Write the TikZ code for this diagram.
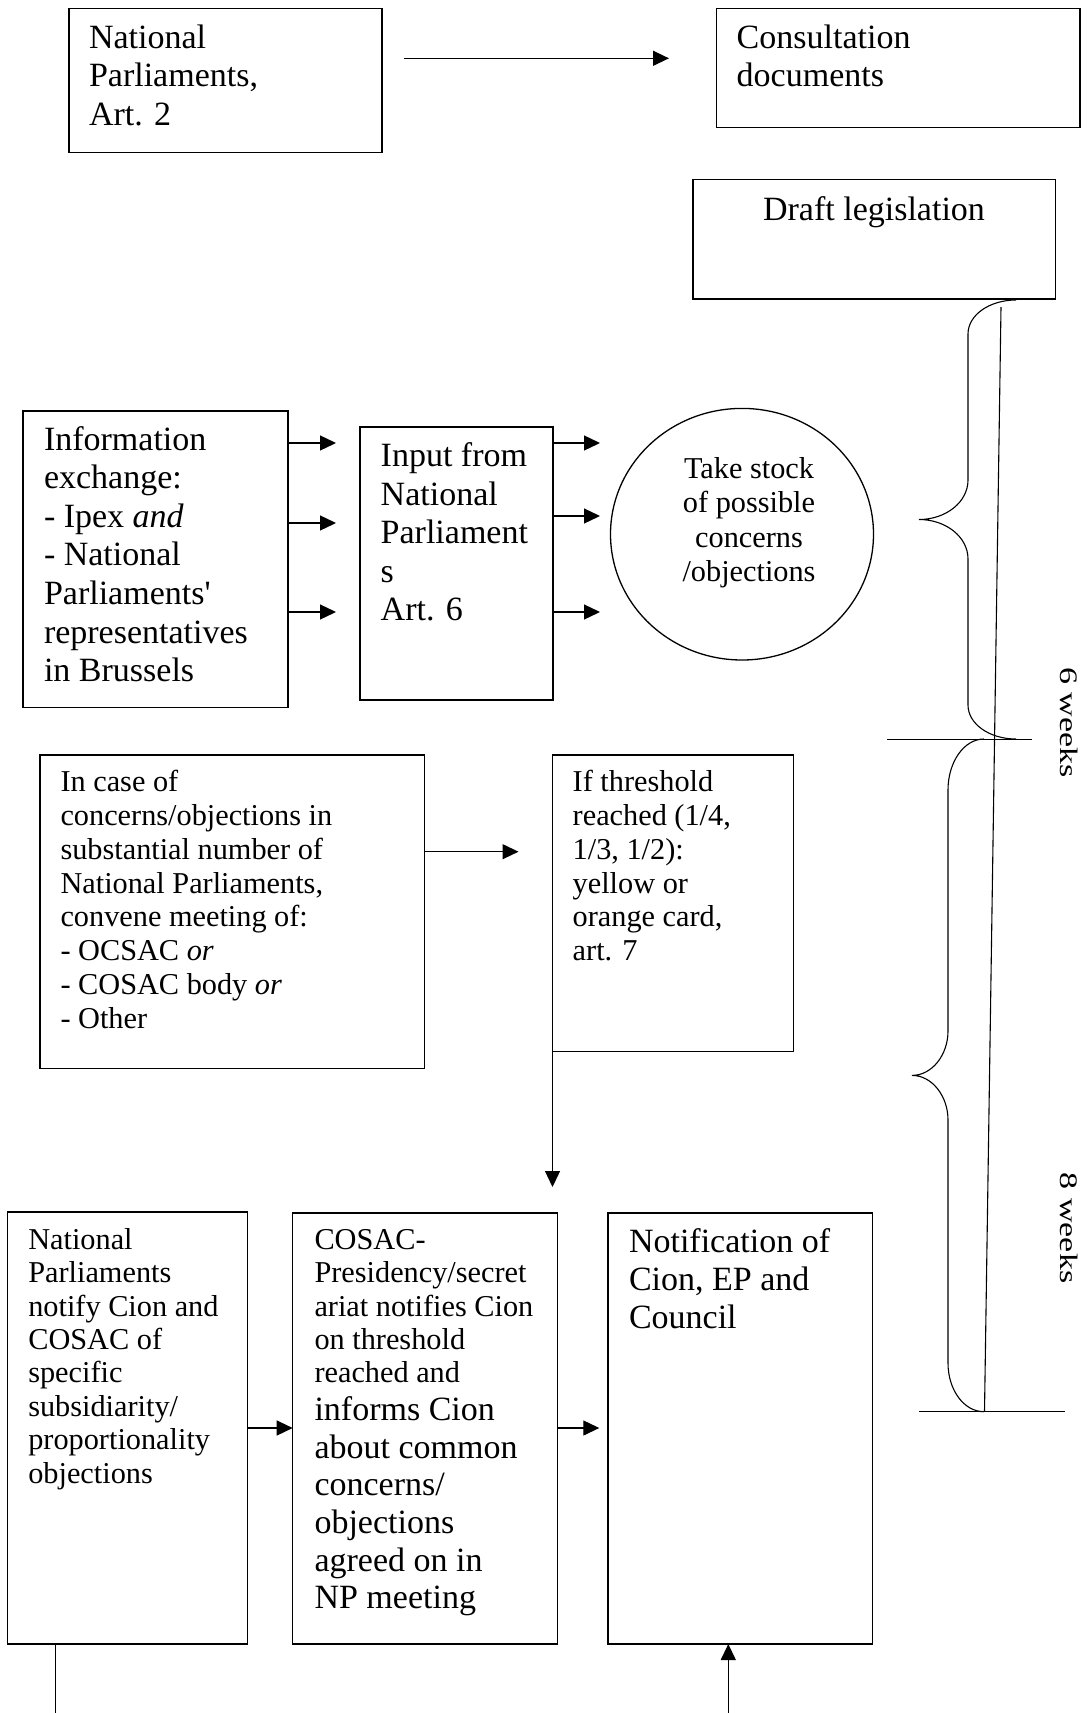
\documentclass[tikz,border=0pt]{standalone}
\usepackage{graphicx}
\usepackage{fontspec}
\setmainfont{Liberation Serif}[Ligatures=TeXOff]
\usetikzlibrary{arrows.meta,shapes.geometric}
\newcommand{\fbig}{\fontsize{34}{38.6}\selectfont}
\newcommand{\fsml}{\fontsize{30.3}{33.6}\selectfont}
\tikzset{
  box/.style={draw, line width=1.3pt, rectangle, inner sep=0pt, outer sep=0pt, anchor=north west},
  txt/.style={anchor=base west, inner sep=0pt, outer sep=0pt},
  ctxt/.style={anchor=base, inner sep=0pt, outer sep=0pt},
  arr/.style={line width=1.3pt, -{Triangle[length=16pt,width=15pt]}},
  plain/.style={line width=1.3pt},
  thinline/.style={line width=1.1pt},
}
\begin{document}
\begin{tikzpicture}[x=1pt,y=-1pt]
\useasboundingbox (0,0) rectangle (1089,1713);

% top row
\node[box, minimum width=313, minimum height=144.4] (np) at (69,8.3) {};
\node[txt] (npt) at (89,48.3) {\parbox[t]{285pt}{\fbig\raggedright National\\Parliaments,\\Art. 2}};
\node[box, minimum width=363.3, minimum height=119.4] (cons) at (716.7,8.3) {};
\node[txt] (const) at (736.7,48.3) {\parbox[t]{330pt}{\fbig\raggedright Consultation\\documents}};
\node[box, minimum width=362.7, minimum height=119.7] (draft) at (693,179.3) {};
\node[ctxt] (draftt) at (874,220.7) {\fbig Draft legislation};

% second row
\node[box, minimum width=265, minimum height=296.3] (info) at (23,411) {};
\node[txt] (infot) at (44,450) {\parbox[t]{238pt}{\fbig\raggedright Information\\exchange:\\- Ipex \textit{and}\\- National\\Parliaments'\\representatives\\in Brussels}};
\node[box, minimum width=193, minimum height=273] (input) at (360,427) {};
\node[txt] (inputt) at (380.7,466.7) {\parbox[t]{165pt}{\fontsize{34}{38.5}\selectfont\raggedright Input from\\National\\Parliament\\s\\Art. 6}};
\node[draw, line width=1.3pt, ellipse, minimum width=263, minimum height=251.6, inner sep=0pt, outer sep=0pt] (stock) at (742,534.2) {};
\node[ctxt] (stockt) at (749,478) {\parbox[t]{200pt}{\centering\fontsize{30.3}{34.5}\selectfont Take stock\\of possible\\concerns\\/objections}};

% third row
\node[box, minimum width=384.5, minimum height=313.3] (incase) at (40,755) {};
\node[txt] (incaset) at (60.5,791.7) {\parbox[t]{355pt}{\fontsize{30.3}{33.8}\selectfont\raggedright In case of\\concerns/objections in\\substantial number of\\National Parliaments,\\convene meeting of:\\- OCSAC \textit{or}\\- COSAC body \textit{or}\\- Other}};
\node[box, minimum width=240.8, minimum height=296.7] (thr) at (552.5,755) {};
\node[txt] (thrt) at (572.7,791.7) {\parbox[t]{210pt}{\fontsize{30.3}{33.8}\selectfont\raggedright If threshold\\reached (1/4,\\1/3, 1/2):\\yellow or\\orange card,\\art. 7}};

% bottom row
\node[box, minimum width=240.4, minimum height=432] (nl) at (7.3,1212) {};
\node[txt] (nlt) at (28.3,1249.3) {\parbox[t]{215pt}{\fontsize{30.3}{33.4}\selectfont\raggedright National\\Parliaments\\notify Cion and\\COSAC of\\specific\\subsidiarity/\\proportionality\\objections}};
\node[box, minimum width=264.6, minimum height=431] (cosac) at (292.7,1213) {};
\node[txt] (cosact) at (314.5,1249.4) {\parbox[t]{238pt}{\raggedright{\fontsize{30.3}{33.3}\selectfont COSAC-\\Presidency/secret\\ariat notifies Cion\\on threshold\\reached and\par}\fontsize{34}{37.7}\selectfont informs Cion\\about common\\concerns/\\objections\\agreed on in\\NP meeting}};
\node[box, minimum width=264.5, minimum height=431] (notif) at (608,1213) {};
\node[txt] (notift) at (629,1252) {\parbox[t]{240pt}{\fontsize{34}{38}\selectfont\raggedright Notification of\\Cion, EP and\\Council}};

% time scale
\node[rotate=-90, anchor=base, inner sep=0pt] (w6) at (1060,722.5) {\scalebox{1}[0.74]{\fbig 6 weeks}};
\node[rotate=-90, anchor=base, inner sep=0pt] (w8) at (1060,1228) {\scalebox{1}[0.74]{\fbig 8 weeks}};
\draw[thinline] (1016,300) .. controls (989.5,300) and (968,315) .. (968,334) -- (968,480)
  .. controls (968,502) and (946,519.5) .. (919,519.5)
  .. controls (946,519.5) and (968,537) .. (968,559) -- (968,705)
  .. controls (968,724) and (989.5,739) .. (1016,739);
\draw[thinline] (984,739) .. controls (964,739) and (948,762) .. (948,790) -- (948,1031)
  .. controls (948,1055) and (932,1075.4) .. (912,1075.4)
  .. controls (932,1075.4) and (948,1096) .. (948,1120) -- (948,1363)
  .. controls (948,1390) and (964,1411.7) .. (984,1411.7);
\draw[thinline] (887.3,739.3) -- (1032.3,739.3);
\draw[thinline] (919,1411.7) -- (1064.7,1411.7);
\draw[thinline] (1001,307) -- (984.5,1411.7);

% connectors
\coordinate (c0s) at (404,58.3);
\coordinate (c0e) at (669,58.3);
\draw[arr] (c0s) -- (c0e);
\coordinate (ia1) at (336,443);
\coordinate (ia2) at (336,523);
\coordinate (ia3) at (336,612);
\draw[arr] (info.east |- ia1) -- (ia1);
\draw[arr] (info.east |- ia2) -- (ia2);
\draw[arr] (info.east |- ia3) -- (ia3);
\coordinate (sa1) at (600,443);
\coordinate (sa2) at (600,516);
\coordinate (sa3) at (600,612);
\draw[arr] (input.east |- sa1) -- (sa1);
\draw[arr] (input.east |- sa2) -- (sa2);
\draw[arr] (input.east |- sa3) -- (sa3);
\coordinate (ta) at (518.5,851.7);
\draw[arr] (incase.east |- ta) -- (ta);
\coordinate (da) at (552.5,1187);
\draw[arr] (thr.south west) -- (da);
\coordinate (ba) at (0,1428);
\draw[arr] (nl.east |- ba) -- (cosac.west |- ba);
\coordinate (bb) at (599.3,1428);
\draw[arr] (cosac.east |- bb) -- (bb);
\coordinate (nlend) at (55.7,1713);
\draw[plain] (nl.south -| nlend) -- (nlend);
\coordinate (upst) at (728.3,1713);
\draw[arr] (upst) -- (notif.south -| upst);
\end{tikzpicture}
\end{document}
